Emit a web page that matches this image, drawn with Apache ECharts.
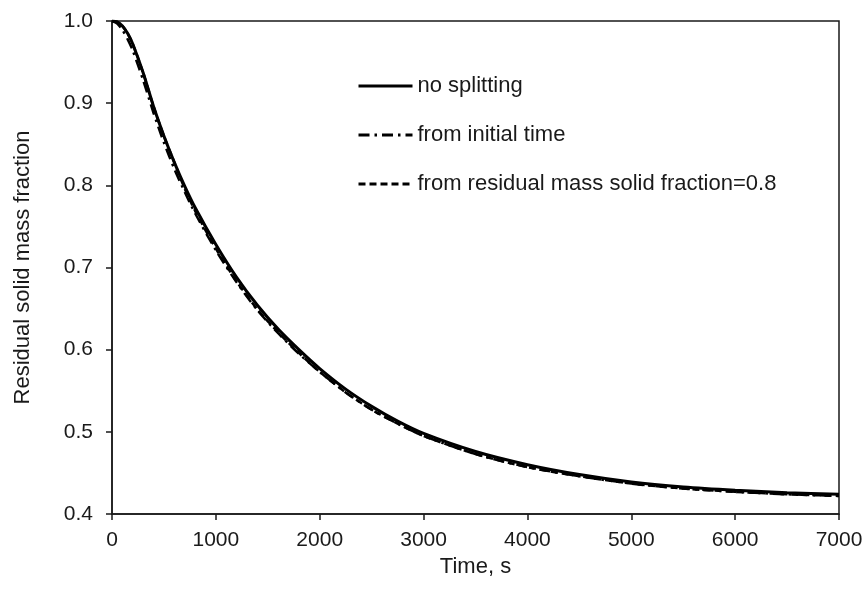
<!DOCTYPE html>
<html>
<head>
<meta charset="utf-8">
<script src="https://cdn.jsdelivr.net/npm/echarts@6/dist/echarts.min.js"></script>
<style>
  html, body { margin: 0; padding: 0; background: #fff; }
  #chart { width: 868px; height: 602px; }
</style>
</head>
<body>
<div id="chart"></div>
<script>
// Time, s
const timeValues = [0, 50, 100, 150, 200, 300, 400, 500, 600, 700, 800, 1000, 1200, 1400, 1600, 1800, 2000, 2250, 2500, 2750, 3000, 3500, 4000, 4500, 5000, 5500, 6000, 6500, 7000];

// Residual solid mass fraction for each run
const noSplitting = [1.000, 0.999, 0.994, 0.985, 0.972, 0.937, 0.896, 0.860, 0.828, 0.799, 0.773, 0.728, 0.688, 0.654, 0.625, 0.600, 0.577, 0.552, 0.531, 0.513, 0.498, 0.476, 0.460, 0.448, 0.439, 0.433, 0.429, 0.426, 0.424];
const fromInitialTime = [1.000, 0.997, 0.989, 0.978, 0.964, 0.928, 0.888, 0.852, 0.820, 0.792, 0.766, 0.721, 0.682, 0.648, 0.620, 0.595, 0.573, 0.548, 0.527, 0.510, 0.495, 0.473, 0.457, 0.446, 0.437, 0.431, 0.427, 0.424, 0.422];
const fromMassFraction08 = [1.000, 0.999, 0.994, 0.985, 0.972, 0.937, 0.896, 0.860, 0.828, 0.796, 0.769, 0.723, 0.683, 0.649, 0.621, 0.596, 0.573, 0.548, 0.527, 0.510, 0.495, 0.473, 0.457, 0.446, 0.437, 0.431, 0.427, 0.424, 0.422];

// Axis ranges and ticks
const xTicks = { min: 0, max: 7000, interval: 1000 };
const yTicks = { min: 0.4, max: 1.0, interval: 0.1 };

const seriesNames = ['no splitting', 'from initial time', 'from residual mass solid fraction=0.8'];

const pairs = (ys) => timeValues.map((t, i) => [t, ys[i]]);

const FONT = 'Liberation Sans, Arial, sans-serif';
const INK = '#1a1a1a';

const chart = echarts.init(document.getElementById('chart'), null, { renderer: 'canvas' });

chart.setOption({
  animation: false,
  backgroundColor: '#ffffff',
  grid: {
    left: 112, right: 29, top: 21, bottom: 88,
    show: true, borderColor: INK, borderWidth: 1.5, backgroundColor: 'transparent'
  },
  legend: {
    orient: 'vertical',
    left: 352, top: 70,
    itemWidth: 54, itemHeight: 14, itemGap: 27,
    data: seriesNames.map(n => ({ name: n })),
    itemStyle: { opacity: 0, borderWidth: 0 },
    lineStyle: { width: 3 },
    textStyle: { fontFamily: FONT, fontSize: 22, color: INK },
    selectedMode: false
  },
  xAxis: {
    type: 'value',
    min: xTicks.min, max: xTicks.max, interval: xTicks.interval,
    name: 'Time, s', nameLocation: 'middle', nameGap: 42, nameMoveOverlap: false,
    nameTextStyle: { fontFamily: FONT, fontSize: 22, color: INK, verticalAlign: 'top' },
    axisLine: { show: true, onZero: false, lineStyle: { color: INK, width: 1.5 } },
    axisTick: { show: true, inside: false, length: 6, lineStyle: { color: INK, width: 1.5 } },
    axisLabel: { fontFamily: FONT, fontSize: 21, color: INK, margin: 16, formatter: v => String(v) },
    splitLine: { show: false }
  },
  yAxis: {
    type: 'value',
    min: yTicks.min, max: yTicks.max, interval: yTicks.interval,
    name: 'Residual solid mass fraction', nameLocation: 'middle', nameGap: 78, nameRotate: 90,
    nameMoveOverlap: false,
    nameTextStyle: { fontFamily: FONT, fontSize: 22, color: INK },
    axisLine: { show: true, onZero: false, lineStyle: { color: INK, width: 1.5 } },
    axisTick: { show: true, inside: false, length: 6, lineStyle: { color: INK, width: 1.5 } },
    axisLabel: { fontFamily: FONT, fontSize: 21, color: INK, margin: 19, formatter: v => v.toFixed(1) },
    splitLine: { show: false }
  },
  series: [
    {
      name: seriesNames[0], type: 'line', data: pairs(noSplitting),
      showSymbol: false, symbol: 'none', smooth: 0.25, z: 5,
      lineStyle: { color: '#000', width: 3, type: 'solid' },
      itemStyle: { color: '#000' }
    },
    {
      name: seriesNames[1], type: 'line', data: pairs(fromInitialTime),
      showSymbol: false, symbol: 'none', smooth: 0.25, z: 4,
      lineStyle: { color: '#000', width: 2.5, type: [11, 5, 2.5, 5] },
      itemStyle: { color: '#000' }
    },
    {
      name: seriesNames[2], type: 'line', data: pairs(fromMassFraction08),
      showSymbol: false, symbol: 'none', smooth: 0.25, z: 3,
      lineStyle: { color: '#000', width: 2.5, type: [7, 4] },
      itemStyle: { color: '#000' }
    }
  ]
});
</script>
</body>
</html>
